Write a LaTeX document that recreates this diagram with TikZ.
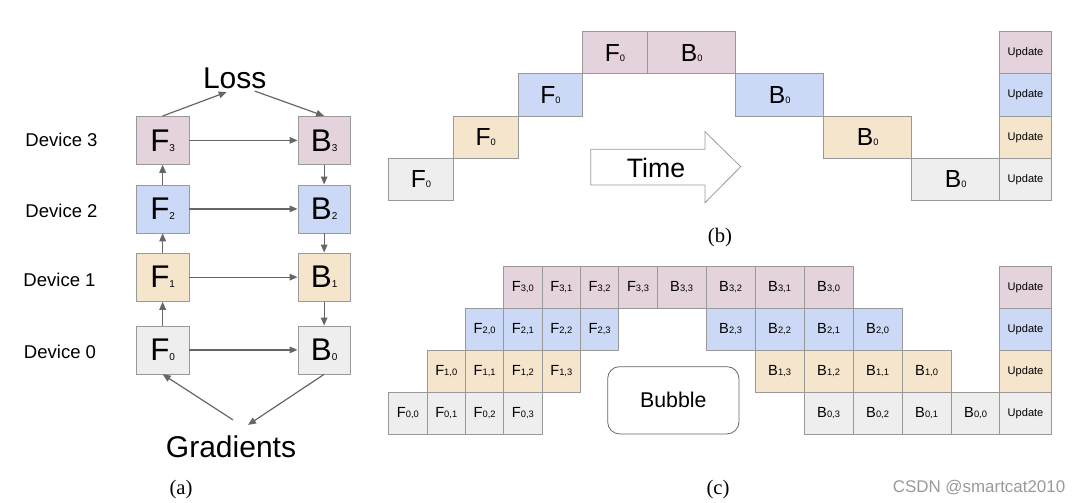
\documentclass[tikz,border=0pt]{standalone}
\usepackage{fontspec}
\setmainfont{Liberation Serif}
\setsansfont{Liberation Sans}
\usetikzlibrary{arrows.meta}
\definecolor{pk}{HTML}{E4D2DD}
\definecolor{bl}{HTML}{CBD9F6}
\definecolor{tn}{HTML}{F5E5CD}
\definecolor{gr}{HTML}{EEEEEE}
\definecolor{edge}{HTML}{999999}
\definecolor{ink}{HTML}{666666}
\newcommand{\sz}[1]{\fontsize{#1}{#1}\selectfont}
\newcommand{\bigop}[2]{{\sz{23.5pt}#1}{\sz{7.5pt}#2}}
\newcommand{\midop}[2]{{\sz{18.5pt}#1}{\sz{7pt}#2}}
\newcommand{\smop}[2]{{\sz{11pt}#1}{\sz{7pt}#2}}
\newcommand{\upd}{{\sz{8.3pt}Update}}
\newcommand{\tile}[7]{\node[tile,fill=#2,minimum width=#5*0.75pt,
	minimum height=#6*0.75pt] (#1) at (#3,#4) {#7}}
\tikzset{
	tile/.style={draw=edge,line width=0.6pt,anchor=north west,inner sep=0pt,font=\sffamily},
	flow/.style={draw=ink,line width=0.9pt,-{Triangle[length=6pt,width=5pt]}},
	dev/.style={font=\sffamily\sz{13.9pt},inner sep=0pt},
	sublabel/.style={font=\sz{15.5pt},inner sep=0pt}
}

\begin{document}
\begin{tikzpicture}[x=0.75pt,y=-0.75pt]
	\useasboundingbox (0,0) rectangle (1085,503);
	% (a)
	\tile{F3}{pk}{136}{116}{52.5}{48}{\bigop{F}{3}};
	\tile{B3}{pk}{297.5}{116}{52.5}{48}{\bigop{B}{3}};
	\tile{F2}{bl}{136}{184.5}{52.5}{48}{\bigop{F}{2}};
	\tile{B2}{bl}{297.5}{184.5}{52.5}{48}{\bigop{B}{2}};
	\tile{F1}{tn}{136}{252.5}{52.5}{48.5}{\bigop{F}{1}};
	\tile{B1}{tn}{297.5}{252.5}{52.5}{48.5}{\bigop{B}{1}};
	\tile{F0}{gr}{136}{325.5}{52.5}{48}{\bigop{F}{0}};
	\tile{B0}{gr}{297.5}{325.5}{52.5}{48}{\bigop{B}{0}};
	\node[dev] (d3) at (61.5,140) {Device 3};
	\node[dev] (d2) at (61.5,210.5) {Device 2};
	\node[dev] (d1) at (59.5,280) {Device 1};
	\node[dev] (d0) at (60,351.5) {Device 0};
	\node[font=\sffamily\sz{22.5pt},inner sep=1pt] (loss) at (234.7,78) {Loss};
	\node[font=\sffamily\sz{22.5pt},inner sep=1pt] (grad) at (231,446.5) {Gradients};
	\draw[flow] (F0) -- (F1);
	\draw[flow] (F1) -- (F2);
	\draw[flow] (F2) -- (F3);
	\draw[flow] (B3) -- (B2);
	\draw[flow] (B2) -- (B1);
	\draw[flow] (B1) -- (B0);
	\foreach \i in {0,...,3}
		\draw[flow] (F\i) -- (B\i);
	\draw[flow] (F3.north) -- ([shift={(-8,2)}]loss.south);
	\draw[flow] ([shift={(20,1)}]loss.south) -- (B3.north);
	\draw[flow] ([shift={(2,-14)}]grad.north) -- (F0.south);
	\draw[flow] (B0.south) -- ([shift={(17,-9)}]grad.north);
	\node[sublabel] (capa) at (181,490) {(a)};
	% (b)
	\foreach \r/\c in {0/gr,1/tn,2/bl,3/pk}{
		\pgfmathsetmacro\ty{31+(3-\r)*42.33}
		\pgfmathsetmacro\fx{388.3+\r*64.67}
		\pgfmathsetmacro\bx{647.3+(3-\r)*88}
		\tile{fb\r}{\c}{\fx}{\ty}{64.67}{42.33}{\midop{F}{0}};
		\tile{bb\r}{\c}{\bx}{\ty}{88}{42.33}{\midop{B}{0}};
		\tile{ub\r}{\c}{999.3}{\ty}{51.7}{42.33}{\upd};
	}
	\draw[edge,fill=white,line width=0.6pt] (590.7,149.3) -- (705,149.3) -- (705,131.7)
		-- (740.7,166.7) -- (705,202.7) -- (705,185) -- (590.7,185) -- cycle;
	\node[font=\sffamily\sz{20pt},inner sep=0pt] (time) at (656,168) {Time};
	\node[sublabel] (capb) at (720,238) {(b)};
	% (c)
	\foreach \r/\c in {0/gr,1/tn,2/bl,3/pk}{
		\pgfmathsetmacro\ty{265.7+(3-\r)*42.1}
		\foreach \j in {0,...,3}{
			\pgfmathsetmacro\fx{388.3+(\r+\j)*38.35}
			\pgfmathsetmacro\bx{656.7+(6-\r-\j)*49}
			\tile{f\r\j}{\c}{\fx}{\ty}{38.35}{42.1}{\smop{F}{\r,\j}};
			\tile{b\r\j}{\c}{\bx}{\ty}{49}{42.1}{\smop{B}{\r,\j}};
		}
		\tile{uc\r}{\c}{999.3}{\ty}{51.7}{42.1}{\upd};
	}
	\node[draw=ink,line width=0.6pt,rounded corners=9pt,minimum width=131.3*0.75pt,
		minimum height=67.3*0.75pt,font=\sffamily\sz{16pt}] (bubble) at (673.3,400.3) {Bubble};
	\node[sublabel] (capc) at (718,490) {(c)};
	\node[font=\sffamily\sz{12.7pt},text=edge,inner sep=0pt] (mark) at (979,488) {CSDN @smartcat2010};
\end{tikzpicture}
\end{document}
